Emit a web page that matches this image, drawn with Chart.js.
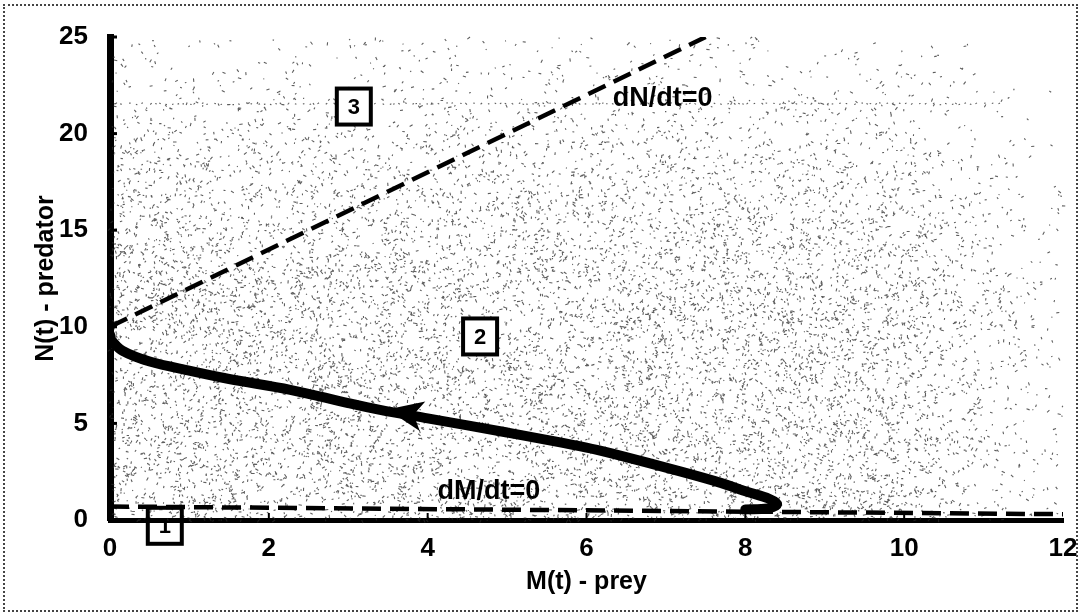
<!DOCTYPE html>
<html>
<head>
<meta charset="utf-8">
<script src="https://cdn.jsdelivr.net/npm/chart.js@4.4.1/dist/chart.umd.min.js"></script>
<style>
  html, body { margin: 0; padding: 0; background: #fff; }
  #wrap { position: relative; width: 1081px; height: 615px; }
  #frame { position: absolute; left: 3px; top: 4px; width: 1071px; height: 604px; border: 2px dotted #444; pointer-events: none; }
</style>
</head>
<body>
<div id="wrap">
  <canvas id="chart" width="1081" height="615"></canvas>
  <div id="frame"></div>
</div>
<script>
/* predator-prey phase plane: trajectory + two nullclines */

const xTicks = [0, 2, 4, 6, 8, 10, 12];
const yTicks = [0, 5, 10, 15, 20, 25];

// trajectory (starts near the prey axis, ends on N axis)
const trajM = [8.0, 8.28, 8.4, 8.3, 8.03, 7.69, 7.19, 6.34, 6.0, 5.0, 4.0, 3.4, 3.0, 2.27, 1.5, 1.01, 0.5, 0.16, 0.02, 0];
const trajN = [0.55, 0.6, 0.82, 1.1, 1.45, 1.92, 2.5, 3.42, 3.75, 4.53, 5.26, 5.7, 6.05, 6.74, 7.3, 7.72, 8.2, 8.75, 9.3, 9.6];

// nullclines (end points)
const dNdtM = [0, 7.5];
const dNdtN = [10, 25];
const dMdtM = [0, 12];
const dMdtN = [0.7, 0.3];

// arrow on the trajectory (from -> to, data units)
const arrowFrom = [3.93, 5.38];
const arrowTo = [3.49, 5.72];

// boxed region numbers
const regionText = ['1', '2', '3'];
const regionM = [0.69, 4.66, 3.07];
const regionN = [-0.3, 9.5, 21.4];

// nullcline captions
const captionText = ['dN/dt=0', 'dM/dt=0'];
const captionM = [6.96, 4.77];
const captionN = [21.8, 1.45];

const FONT = '"Liberation Sans", Arial, sans-serif';

function pts(xs, ys) { return xs.map((x, i) => ({ x: x, y: ys[i] })); }

function lcg(seed) {
  let s = seed >>> 0;
  return () => (s = (Math.imul(s, 1664525) + 1013904223) >>> 0) / 4294967296;
}

// scanned-paper speckle behind the plot
const speckle = {
  id: 'speckle',
  beforeDatasetsDraw(chart) {
    const { ctx, chartArea: a } = chart;
    const rnd = lcg(12345);
    const w = a.right - a.left, h = a.bottom - a.top;
    ctx.save();
    ctx.strokeStyle = 'rgba(40,40,40,0.75)';
    ctx.lineWidth = 1.1;
    ctx.beginPath();
    for (let i = 0; i < 16000; i++) {
      const fx = rnd(), fy = rnd(), keep = rnd();
      let d = 0.15 + 0.85 * Math.min(1, Math.max(0, (fy - 0.05) / 0.45));
      if (fx > 0.82) d *= 1 - 0.8 * Math.min(1, (fx - 0.82) / 0.14);
      if (keep > d) continue;
      const x = a.left + fx * w, y = a.top + fy * h;
      const ang = rnd() * Math.PI, len = 1 + rnd() * 2.5;
      ctx.moveTo(x, y);
      ctx.lineTo(x + Math.cos(ang) * len, y + Math.sin(ang) * len);
    }
    // faint scan streak
    const ys = chart.scales.y.getPixelForValue(21.6);
    for (let x = a.left + 4; x < a.right - 60; x += 3 + rnd() * 6) {
      ctx.moveTo(x, ys + rnd() * 2);
      ctx.lineTo(x + 1.5, ys + rnd() * 2);
    }
    ctx.stroke();
    ctx.restore();
  }
};

// inner tick nubs, arrow head, boxed numbers and captions
const annotations = {
  id: 'annotations',
  afterDraw(chart) {
    const { ctx } = chart;
    const sx = chart.scales.x, sy = chart.scales.y;
    ctx.save();

    ctx.strokeStyle = '#000';
    ctx.lineWidth = 3;
    yTicks.slice(1).forEach(v => {
      const y = sy.getPixelForValue(v);
      ctx.beginPath(); ctx.moveTo(sx.left, y); ctx.lineTo(sx.left + 7, y); ctx.stroke();
    });
    ctx.lineWidth = 2;
    xTicks.slice(1, -1).forEach(v => {
      const x = sx.getPixelForValue(v);
      ctx.beginPath(); ctx.moveTo(x, sy.bottom); ctx.lineTo(x, sy.bottom - 7); ctx.stroke();
    });

    // arrow head
    const x0 = sx.getPixelForValue(arrowFrom[0]), y0 = sy.getPixelForValue(arrowFrom[1]);
    const x1 = sx.getPixelForValue(arrowTo[0]), y1 = sy.getPixelForValue(arrowTo[1]);
    const ang = Math.atan2(y1 - y0, x1 - x0);
    const L = 36, W = 15;
    ctx.fillStyle = '#000';
    ctx.beginPath();
    ctx.moveTo(x1, y1);
    ctx.lineTo(x1 - L * Math.cos(ang) + W * Math.sin(ang), y1 - L * Math.sin(ang) - W * Math.cos(ang));
    ctx.lineTo(x1 - 0.75 * L * Math.cos(ang), y1 - 0.75 * L * Math.sin(ang));
    ctx.lineTo(x1 - L * Math.cos(ang) - W * Math.sin(ang), y1 - L * Math.sin(ang) + W * Math.cos(ang));
    ctx.closePath();
    ctx.fill();

    // boxed region numbers
    ctx.textAlign = 'center';
    ctx.textBaseline = 'middle';
    ctx.font = 'bold 22px ' + FONT;
    regionText.forEach((t, i) => {
      const x = sx.getPixelForValue(regionM[i]), y = sy.getPixelForValue(regionN[i]);
      if (i > 0) { ctx.fillStyle = '#fff'; ctx.fillRect(x - 17, y - 18, 34, 36); }
      ctx.strokeStyle = '#000';
      ctx.lineWidth = 4;
      ctx.strokeRect(x - 17, y - 18, 34, 36);
      ctx.fillStyle = '#000';
      ctx.fillText(t, x, y + 1);
    });

    // nullcline captions
    ctx.font = 'bold 27px ' + FONT;
    captionText.forEach((t, i) => {
      ctx.fillText(t, sx.getPixelForValue(captionM[i]), sy.getPixelForValue(captionN[i]));
    });
    ctx.restore();
  }
};

const tickFont = { family: FONT, size: 26, weight: 'bold' };
const titleFont = { family: FONT, size: 25, weight: 'bold' };

new Chart(document.getElementById('chart'), {
  type: 'scatter',
  data: {
    datasets: [
      { label: 'dN/dt=0', data: pts(dNdtM, dNdtN), showLine: true, borderColor: '#000', borderWidth: 4.5, borderDash: [19, 9], pointRadius: 0 },
      { label: 'dM/dt=0', data: pts(dMdtM, dMdtN), showLine: true, borderColor: '#000', borderWidth: 4.5, borderDash: [19, 9], pointRadius: 0 },
      { label: 'trajectory', data: pts(trajM, trajN), showLine: true, borderColor: '#000', borderWidth: 10, tension: 0.35, pointRadius: 0, borderCapStyle: 'round', borderJoinStyle: 'round' }
    ]
  },
  options: {
    responsive: false,
    animation: false,
    events: [],
    layout: { padding: { top: 37, right: 18, left: 0, bottom: 0 } },
    plugins: { legend: { display: false }, tooltip: { enabled: false } },
    scales: {
      x: {
        type: 'linear', min: 0, max: 12,
        afterFit(s) { s.height = 95; s.paddingLeft = 0; s.paddingRight = 0; },
        afterBuildTicks(s) { s.ticks = xTicks.map(v => ({ value: v })); },
        grid: { display: false, drawTicks: false },
        border: { display: true, color: '#000', width: 5 },
        ticks: { color: '#000', font: tickFont, padding: 13, maxRotation: 0 },
        title: { display: true, text: 'M(t) - prey', color: '#000', font: titleFont, padding: { top: 0, bottom: 18 } }
      },
      y: {
        type: 'linear', min: 0, max: 25,
        afterFit(s) { s.width = 110; s.paddingTop = 0; s.paddingBottom = 0; },
        afterBuildTicks(s) { s.ticks = yTicks.map(v => ({ value: v })); },
        grid: { display: false, drawTicks: false },
        border: { display: true, color: '#000', width: 7 },
        ticks: { color: '#000', font: tickFont, padding: 22 },
        title: { display: true, text: 'N(t) - predator', color: '#000', font: titleFont, padding: { top: 31, bottom: 0 } }
      }
    }
  },
  plugins: [speckle, annotations]
});
</script>
</body>
</html>
